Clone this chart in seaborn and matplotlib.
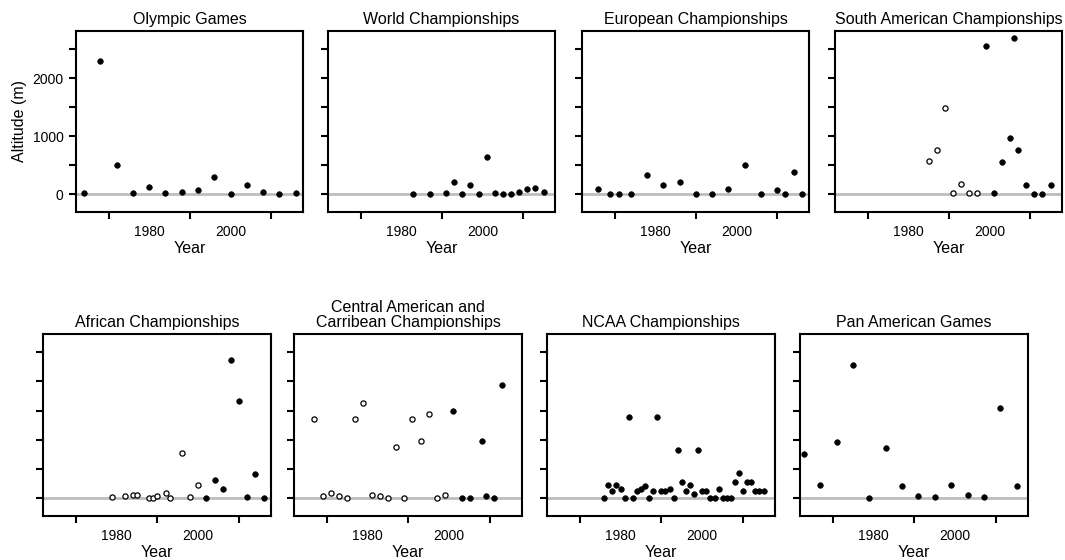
import matplotlib
matplotlib.use("Agg")
import matplotlib.pyplot as plt
import seaborn as sns
import pandas as pd

# values (year, altitude in m, marker style)
olympic_years = [1964, 1968, 1972, 1976, 1980, 1984, 1988, 1992, 1996, 2000, 2004, 2008, 2012, 2016]
olympic_alt = [15, 2300, 500, 20, 120, 30, 40, 80, 300, 5, 165, 40, 0, 20]

world_years = [1983, 1987, 1991, 1993, 1995, 1997, 1999, 2001, 2003, 2005, 2007, 2009, 2011, 2013, 2015]
world_alt = [0, 5, 15, 205, 0, 160, 0, 640, 15, 5, 5, 35, 95, 115, 35]

euro_years = [1966, 1969, 1971, 1974, 1978, 1982, 1986, 1990, 1994, 1998, 2002, 2006, 2010, 2012, 2014, 2016]
euro_alt = [97, 0, 0, 5, 330, 160, 205, 0, 0, 97, 497, 0, 75, 0, 383, 0]

southam_years = [1985, 1987, 1989, 1991, 1993, 1995, 1997, 1999, 2001, 2003, 2005, 2006, 2007, 2009, 2011, 2013, 2015]
southam_alt = [571, 754, 1480, 23, 171, 23, 23, 2554, 23, 549, 966, 2697, 754, 166, 0, 0, 166]
southam_open = [True] * 7 + [False] * 10

africa_years = [1979, 1982, 1984, 1985, 1988, 1989, 1990, 1992, 1993, 1996, 1998, 2000,
                2002, 2004, 2006, 2008, 2010, 2012, 2014, 2016]
africa_alt = [23, 40, 57, 46, 6, 6, 40, 97, 6, 771, 17, 234, 6, 309, 149, 2360, 1663, 17, 411, 6]
africa_open = [True] * 12 + [False] * 8

cac_years = [1967, 1969, 1971, 1973, 1975, 1977, 1979, 1981, 1983, 1985, 1987, 1989, 1991, 1993,
             1995, 1997, 1999, 2001, 2003, 2005, 2008, 2009, 2011, 2013]
cac_alt = [1360, 34, 97, 40, 6, 1360, 1629, 51, 40, 6, 869, 6, 1360, 971,
           1446, 6, 46, 1486, 6, 6, 971, 34, 0, 1931]
cac_open = [True] * 17 + [False] * 7

ncaa_years = [1976, 1977, 1978, 1979, 1980, 1981, 1982, 1983, 1984, 1985, 1986, 1987, 1988, 1989,
              1990, 1991, 1992, 1993, 1994, 1995, 1996, 1997, 1998, 1999, 2000, 2001, 2002, 2003,
              2004, 2005, 2006, 2007, 2008, 2009, 2010, 2011, 2012, 2013, 2014, 2015]
ncaa_alt = [0, 223, 120, 223, 149, 0, 1383, 0, 126, 149, 217, 0, 126, 1383,
            126, 131, 149, 0, 823, 269, 126, 229, 80, 823, 126, 126, 0, 0,
            149, 0, 0, 0, 280, 423, 126, 280, 280, 126, 126, 126]

panam_years = [1963, 1967, 1971, 1975, 1979, 1983, 1987, 1991, 1995, 1999, 2003, 2007, 2011, 2015]
panam_alt = [754, 229, 960, 2286, 0, 857, 206, 29, 17, 229, 46, 23, 1549, 200]

titles = ["Olympic Games", "World Championships", "European Championships",
          "South American Championships", "African Championships",
          "Central American and\nCarribean Championships", "NCAA Championships",
          "Pan American Games"]


def make_frame(years, alt, open_flags=None):
    if open_flags is None:
        open_flags = [False] * len(years)
    return pd.DataFrame({"year": years, "altitude": alt, "open": open_flags})


frames = [make_frame(olympic_years, olympic_alt),
          make_frame(world_years, world_alt),
          make_frame(euro_years, euro_alt),
          make_frame(southam_years, southam_alt, southam_open),
          make_frame(africa_years, africa_alt, africa_open),
          make_frame(cac_years, cac_alt, cac_open),
          make_frame(ncaa_years, ncaa_alt),
          make_frame(panam_years, panam_alt)]

sns.set_theme(style="ticks")
plt.rcParams["font.family"] = ["Liberation Sans", "DejaVu Sans"]
plt.rcParams["axes.linewidth"] = 1.5
plt.rcParams["text.color"] = "black"
plt.rcParams["axes.labelcolor"] = "black"
plt.rcParams["xtick.color"] = "black"
plt.rcParams["ytick.color"] = "black"

fig = plt.figure(figsize=(10.65, 5.6), dpi=100)

# panel boxes in pixels (left, top) - top row leaves room for the y labels
W, H = 1065, 560
top_lefts = [76, 328, 582, 835]
bot_lefts = [43, 294, 547, 800]
boxes = [(l, 31, 227, 181) for l in top_lefts] + [(l, 334, 228, 182) for l in bot_lefts]

for i, (df, title) in enumerate(zip(frames, titles)):
    l, t, w, h = boxes[i]
    ax = fig.add_axes([l / W, 1 - (t + h) / H, w / W, h / H])
    ax.axhline(0, color="#bdbdbd", lw=2, zorder=1)
    sns.scatterplot(data=df[~df["open"]], x="year", y="altitude", ax=ax,
                    color="black", edgecolor="black", linewidth=0.5, s=16, zorder=3)
    if df["open"].any():
        sns.scatterplot(data=df[df["open"]], x="year", y="altitude", ax=ax,
                        color="white", edgecolor="black", linewidth=0.9, s=14, zorder=3)
    ax.set_xlim(1962, 2017.8)
    ax.set_ylim(-305, 2810)
    ax.set_xticks([1980, 2000])
    ax.set_xticklabels(["1980", "2000"])
    ax.set_xticks([1970, 1990, 2010], minor=True)
    ax.tick_params(axis="x", which="major", length=0, pad=9, labelsize=10)
    ax.tick_params(axis="x", which="minor", length=5, width=1.5, color="black")
    ax.set_yticks([0, 500, 1000, 1500, 2000, 2500])
    ax.tick_params(axis="y", length=5, width=1.5, color="black", pad=4, labelsize=10)
    if i == 0:
        ax.set_yticklabels(["0", "", "1000", "", "2000", ""])
        ax.set_ylabel("Altitude (m)", fontsize=11.5, labelpad=4)
    else:
        ax.set_yticklabels([])
        ax.set_ylabel("")
    ax.set_xlabel("Year", fontsize=11.5, labelpad=2)
    ax.set_title(title, fontsize=11.5, pad=5, linespacing=1.0)
    for sp in ax.spines.values():
        sp.set_color("black")
        sp.set_linewidth(1.5)

fig.savefig("out.png", dpi=100)
